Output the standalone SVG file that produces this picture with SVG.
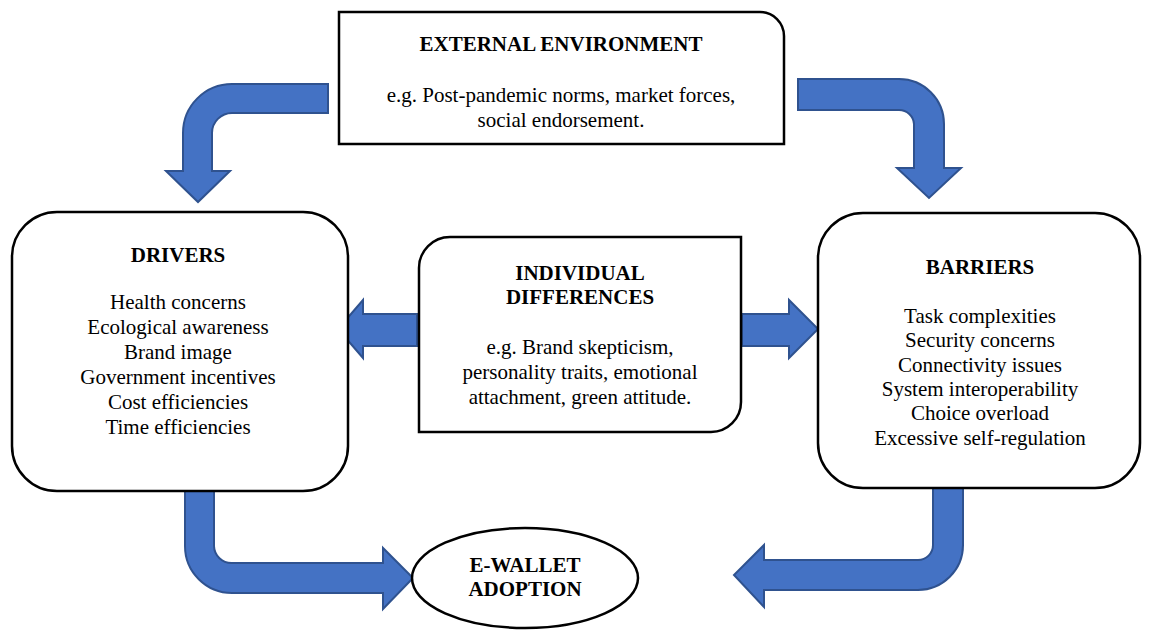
<svg xmlns="http://www.w3.org/2000/svg" width="1150" height="631" viewBox="0 0 1150 631">
<style>
.arrow{fill:#4472C4;stroke:#2F528F;stroke-width:2;stroke-linejoin:miter}
.box{fill:#fff;stroke:#000;stroke-width:2.5}
text{font-family:'Liberation Serif',Tinos,'Times New Roman',Times,'Nimbus Roman','DejaVu Serif',serif;font-size:21px;fill:#000;text-anchor:middle}
.b{font-weight:bold}
</style>
<rect width="1150" height="631" fill="#fff"/>
<g id="connectors">
<path class="arrow" d="M328,84 L232,84 A49,49 0 0 0 183,133 L183,171 L166,171 L198,202 L230,171 L212,171 L212,133 A20,20 0 0 1 232,113 L328,113 Z"/>
<path class="arrow" d="M798,79 L899,79 A45,45 0 0 1 944,124 L944,168 L961,168 L929,198 L897,168 L914,168 L914,124 A15,15 0 0 0 899,110 L798,110 Z"/>
<path class="arrow" d="M185,490 L185,546 A47,47 0 0 0 232,593 L383,593 L383,609 L413,578 L383,548 L383,563 L232,563 A17.5,17.5 0 0 1 214,546 L214,490 Z"/>
<path class="arrow" d="M963,488 L963,545 A45,45 0 0 1 918,590 L764,590 L764,607 L734,575 L764,545 L764,560 L918,560 A15,15 0 0 0 933,545 L933,488 Z"/>
<path class="arrow" d="M417,314 L363,314 L363,300 L338,329 L363,358 L363,346 L417,346 Z"/>
<path class="arrow" d="M742,314 L789,314 L789,300 L818,329 L789,358 L789,346 L742,346 Z"/>
</g>
<g id="external">
<path class="box" d="M339,12 L760,12 A24,24 0 0 1 784,36 L784,144 L339,144 Z"/>
<text class="b" x="561" y="51" font-family="Liberation Serif, serif">EXTERNAL ENVIRONMENT</text>
<text x="561" y="102">e.g. Post-pandemic norms, market forces,</text>
<text x="561" y="127">social endorsement.</text>
</g>
<g id="drivers">
<rect class="box" x="12" y="212" width="336" height="279" rx="45"/>
<text class="b" x="178" y="262">DRIVERS</text>
<text x="178" y="309">Health concerns</text>
<text x="178" y="334">Ecological awareness</text>
<text x="178" y="359">Brand image</text>
<text x="178" y="384">Government incentives</text>
<text x="178" y="409">Cost efficiencies</text>
<text x="178" y="434">Time efficiencies</text>
</g>
<g id="individual">
<path class="box" d="M419,268 A31,31 0 0 1 450,237 L741,237 L741,402 A30,30 0 0 1 711,432 L419,432 Z"/>
<text class="b" x="580" y="280">INDIVIDUAL</text>
<text class="b" x="580" y="304">DIFFERENCES</text>
<text x="580" y="354">e.g. Brand skepticism,</text>
<text x="580" y="379">personality traits, emotional</text>
<text x="580" y="404">attachment, green attitude.</text>
</g>
<g id="barriers">
<rect class="box" x="818" y="213" width="322" height="275" rx="45"/>
<text class="b" x="980" y="274">BARRIERS</text>
<text x="980" y="323">Task complexities</text>
<text x="980" y="347">Security concerns</text>
<text x="980" y="372">Connectivity issues</text>
<text x="980" y="396">System interoperability</text>
<text x="980" y="420">Choice overload</text>
<text x="980" y="445">Excessive self-regulation</text>
</g>
<g id="adoption">
<ellipse class="box" cx="525" cy="578" rx="113" ry="50"/>
<text class="b" x="525" y="572">E-WALLET</text>
<text class="b" x="525" y="596">ADOPTION</text>
</g>
</svg>
